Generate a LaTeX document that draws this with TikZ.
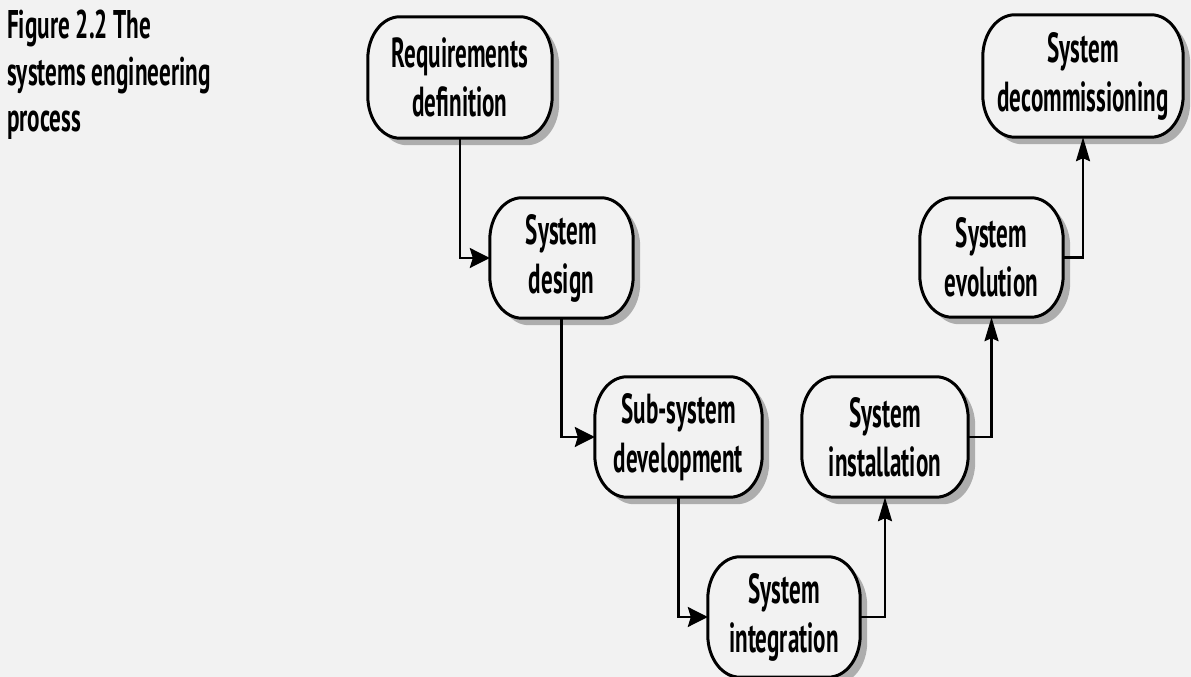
\documentclass[tikz,border=0pt]{standalone}
\usepackage{fontspec}
\newfontfamily\nf[FakeStretch=0.55]{PT Sans}
\newfontfamily\cf[FakeStretch=0.58]{PT Sans}
\usetikzlibrary{arrows.meta,calc}
\pgfdeclarelayer{back}
\pgfsetlayers{back,main}
\definecolor{paper}{HTML}{F2F2F2}
\newcommand\bxrx{32pt}
\newcommand\bxry{42pt}
\tikzset{
  stagebox/.style={draw=none, inner sep=0pt, align=center,
    font=\nf\bfseries\fontsize{42}{49}\selectfont},
  boxline/.style={draw=black, line width=3pt, fill=paper},
  shadowc/.style={fill=black!32},
  conn/.style={draw=black, line width=2.2pt},
  harr/.style={conn, -{Stealth[length=20pt,width=20pt,inset=3pt]}},
  varr/.style={conn, -{Stealth[length=24pt,width=14pt,inset=3pt]}},
}
\begin{document}
\begin{tikzpicture}[x=1pt,y=1pt]
\useasboundingbox (0,0) rectangle (1191,677);
\clip (0,0) rectangle (1191,677);
\begin{pgfonlayer}{back}
\fill[paper] (0,0) rectangle (1191,677);
\end{pgfonlayer}

\node[anchor=north west, inner sep=0pt, align=left,
  font=\cf\bfseries\fontsize{40}{46.5}\selectfont] (cap) at (7,667)
  {Figure 2.2 The\\systems engineering\\process};

\node[stagebox, minimum width=184pt, minimum height=121pt] (req) at (460,599.5) {Requirements\\definition};
\node[stagebox, minimum width=143pt, minimum height=120pt] (des) at (561.5,419) {System\\design};
\node[stagebox, minimum width=167pt, minimum height=120pt] (sub) at (678.5,240) {Sub-system\\development};
\node[stagebox, minimum width=152pt, minimum height=120pt] (int) at (784,60) {System\\integration};
\node[stagebox, minimum width=166pt, minimum height=120pt] (ins) at (885,240) {System\\installation};
\node[stagebox, minimum width=143pt, minimum height=119pt] (evo) at (991.5,419.5) {System\\evolution};
\node[stagebox, minimum width=200pt, minimum height=122pt] (dec) at (1083,601) {System\\decommissioning};

\begin{pgfonlayer}{back}
\begin{scope}[transform canvas={shift={(7pt,-7pt)}}]
\foreach \n in {req,des,sub,int,ins,evo,dec}{
  \fill[shadowc] ($(\n.north west)+(\bxrx,0)$) -- ($(\n.north east)+(-\bxrx,0)$)
    arc[start angle=90,end angle=0,x radius=\bxrx,y radius=\bxry]
    -- ($(\n.south east)+(0,\bxry)$)
    arc[start angle=0,end angle=-90,x radius=\bxrx,y radius=\bxry]
    -- ($(\n.south west)+(\bxrx,0)$)
    arc[start angle=270,end angle=180,x radius=\bxrx,y radius=\bxry]
    -- ($(\n.north west)+(0,-\bxry)$)
    arc[start angle=180,end angle=90,x radius=\bxrx,y radius=\bxry] -- cycle;
}
\end{scope}
\foreach \n in {req,des,sub,int,ins,evo,dec}{
  \path[boxline] ($(\n.north west)+(\bxrx,0)$) -- ($(\n.north east)+(-\bxrx,0)$)
    arc[start angle=90,end angle=0,x radius=\bxrx,y radius=\bxry]
    -- ($(\n.south east)+(0,\bxry)$)
    arc[start angle=0,end angle=-90,x radius=\bxrx,y radius=\bxry]
    -- ($(\n.south west)+(\bxrx,0)$)
    arc[start angle=270,end angle=180,x radius=\bxrx,y radius=\bxry]
    -- ($(\n.north west)+(0,-\bxry)$)
    arc[start angle=180,end angle=90,x radius=\bxrx,y radius=\bxry] -- cycle;
}
\end{pgfonlayer}

\draw[harr] (req.south) |- (des.west);
\draw[harr] (des.south) |- (sub.west);
\draw[harr] (sub.south) |- (int.west);
\draw[varr] (int.east) -| (ins.south);
\draw[varr] (ins.east) -| (evo.south);
\draw[varr] (evo.east) -| (dec.south);
\end{tikzpicture}
\end{document}
